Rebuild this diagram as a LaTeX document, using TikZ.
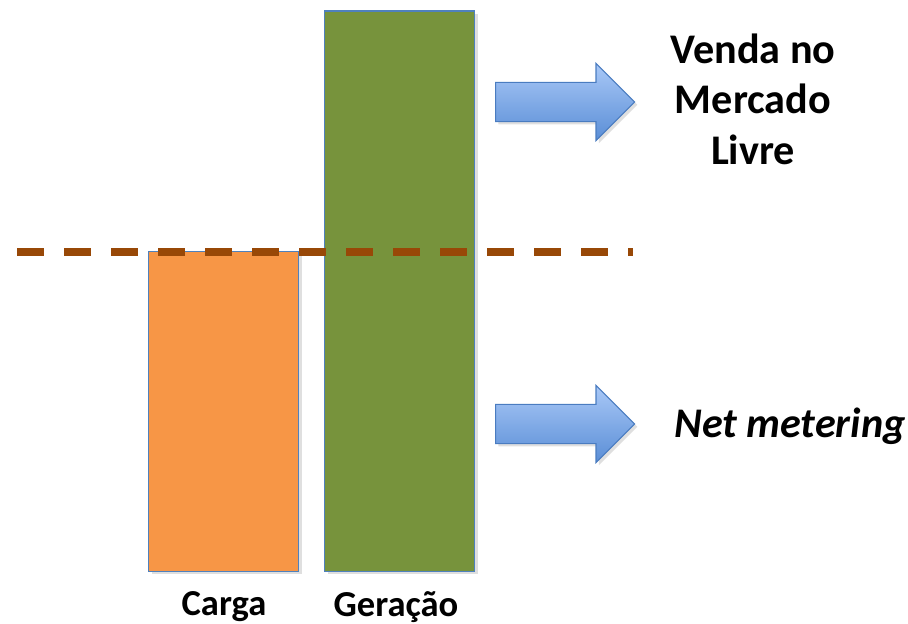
\documentclass[tikz,border=0pt]{standalone}
\usepackage{xcolor}
\usepackage{fontspec}
\setsansfont{Carlito}
\usepackage{tikz}
\usetikzlibrary{positioning,shapes.arrows,shadows}

\definecolor{laranja}{HTML}{F79646}
\definecolor{verde}{HTML}{77933C}
\definecolor{borda}{HTML}{4F81BD}
\definecolor{marrom}{HTML}{984807}
\definecolor{setaclaro}{HTML}{A9C8F7}
\definecolor{setaescuro}{HTML}{5A8ED6}
\definecolor{setaborda}{HTML}{4A7CC0}

\tikzset{
  barra/.style={draw=borda, line width=1pt, inner sep=0pt, anchor=south west,
    drop shadow={shadow xshift=2pt, shadow yshift=-2pt, opacity=0.25}},
  seta/.style={shape=single arrow, draw=setaborda, line width=0.8pt,
    top color=setaclaro, bottom color=setaescuro, inner xsep=0pt, inner ysep=0.475cm,
    minimum height=3.475cm, anchor=tail,
    single arrow head extend=0.475cm, single arrow head indent=0pt,
    drop shadow={shadow xshift=2pt, shadow yshift=-2pt, opacity=0.25}},
  rotulo/.style={font=\sffamily\bfseries\fontsize{30}{36}\selectfont, align=center, inner sep=0pt},
  base/.style={font=\sffamily\bfseries\fontsize{26}{30}\selectfont, inner sep=0pt}
}

\begin{document}
\begin{tikzpicture}[x=0.025cm, y=-0.025cm]
      \useasboundingbox (0,0) rectangle (908,624);

      % Barras
      \node[barra, fill=laranja, minimum width=3.75cm, minimum height=8cm] (carga) at (148,572) {};
      \node[barra, fill=verde, minimum width=3.75cm, minimum height=14cm] (geracao) at (324,572) {};

      % Rotulos das barras
      \node[base] (lcarga) at (224,607) {Carga};
      \node[base] (lgeracao) at (396,607) {Geração};

      % Linha tracejada
      \coordinate (ini) at (17,252);
      \coordinate (fim) at (633,252);
      \draw[marrom, line width=5pt, dash pattern=on 0.675cm off 0.5cm] (ini) -- (fim);

      % Setas
      \node[seta] (setacima) at (495,102) {};
      \node[seta] (setabaixo) at (495,424) {};

      % Textos
      \node[rotulo] (venda) at (753,99) {Venda no\\Mercado\\Livre};
      \node[rotulo, font=\sffamily\bfseries\itshape\fontsize{30}{36}\selectfont] (net) at (790,426) {Net metering};
    \end{tikzpicture}
\end{document}
